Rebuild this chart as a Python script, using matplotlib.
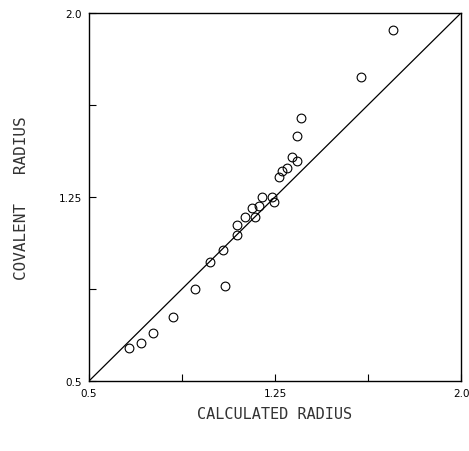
import matplotlib
matplotlib.use("Agg")
import matplotlib.pyplot as plt

# calculated vs covalent radius
calc_radius = [0.661, 0.710, 0.758, 0.839, 0.927, 1.048, 0.988, 1.040,
               1.097, 1.097, 1.129, 1.157, 1.169, 1.185, 1.198, 1.238,
               1.246, 1.266, 1.278, 1.298, 1.319, 1.339, 1.339, 1.355,
               1.597, 1.726]
cov_radius = [0.635, 0.655, 0.696, 0.761, 0.876, 0.888, 0.986, 1.035,
              1.096, 1.137, 1.169, 1.206, 1.169, 1.214, 1.251, 1.251,
              1.231, 1.333, 1.357, 1.369, 1.414, 1.398, 1.500, 1.573,
              1.741, 1.929]

tick_pos = [0.5, 0.875, 1.25, 1.625, 2.0]
tick_labels = ['0.5', '', '1.25', '', '2.0']

fig = plt.figure(figsize=(4.69, 4.52), dpi=100)
ax = fig.add_axes([0.1898, 0.1549, 0.7932, 0.8142])

# y = x reference line
ax.plot([0.5, 2.0], [0.5, 2.0], color='black', linewidth=0.9)
ax.plot(calc_radius, cov_radius, linestyle='none', marker='o',
        markersize=6.3, markerfacecolor='none', markeredgecolor='black',
        markeredgewidth=0.8)

ax.set_xlim(0.5, 2.0)
ax.set_ylim(0.5, 2.0)
ax.set_xticks(tick_pos)
ax.set_xticklabels(tick_labels)
ax.set_yticks(tick_pos)
ax.set_yticklabels(tick_labels)
ax.tick_params(direction='in', length=5, width=0.8, labelsize=7.5,
               pad=5, colors='black')

for side in ax.spines.values():
    side.set_linewidth(1.0)

fig.text(0.586, 0.083, 'CALCULATED RADIUS', family='DejaVu Sans Mono',
         ha='center', va='center', fontsize=11, color='#333333')
fig.text(0.046, 0.561, 'COVALENT   RADIUS', family='DejaVu Sans Mono',
         ha='center', va='center', rotation=90, fontsize=11.5,
         color='#333333')

fig.savefig('out.png', dpi=100)
